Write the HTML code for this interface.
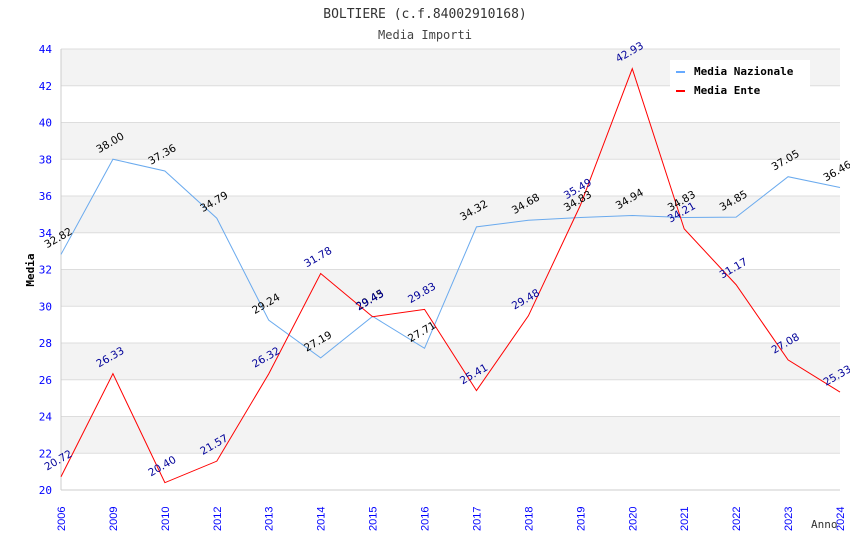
<!DOCTYPE html>
<html><head><meta charset="utf-8"><style>
body{margin:0;background:#fff;}
svg{display:block;font-family:"DejaVu Sans Mono","Liberation Mono",monospace;}
</style></head><body>
<svg id="chart" width="850" height="550" xmlns="http://www.w3.org/2000/svg">
<text x="425" y="18" text-anchor="middle" font-size="13" fill="#333">BOLTIERE (c.f.84002910168)</text>
<text x="425" y="39" text-anchor="middle" font-size="12" fill="#444">Media Importi</text>
<g id="bands"></g><g id="grid"></g><g id="axes"></g><g id="series"></g><g id="labels"></g>
<text transform="translate(34,270) rotate(-90)" text-anchor="middle" font-size="11" font-weight="bold" fill="#000">Media</text>
<text x="811" y="528" font-size="11" fill="#333">Anno</text>
<g>
<rect x="670" y="60" width="140" height="42" fill="#fff"/>
<rect x="676" y="71" width="9" height="2" fill="#6af"/>
<text x="694" y="75" font-size="11" font-weight="bold" fill="#000">Media Nazionale</text>
<rect x="676" y="90" width="9" height="2" fill="#f00"/>
<text x="694" y="94" font-size="11" font-weight="bold" fill="#000">Media Ente</text>
</g>
</svg>
<script>
const categories=["2006","2009","2010","2012","2013","2014","2015","2016","2017","2018","2019","2020","2021","2022","2023","2024"];
const nazionale=[32.82,38.00,37.36,34.79,29.24,27.19,29.45,27.71,34.32,34.68,34.83,34.94,34.83,34.85,37.05,36.46];
const ente=[20.72,26.33,20.40,21.57,26.32,31.78,29.43,29.83,25.41,29.48,35.49,42.93,34.21,31.17,27.08,25.33];
const yTicks=[20,22,24,26,28,30,32,34,36,38,40,42,44];
const X0=61,X1=840,Y0=490,Y1=49,YMIN=20,YMAX=44;
const ns="http://www.w3.org/2000/svg";
const xs=i=>X0+(X1-X0)*i/(categories.length-1);
const ys=v=>Y0-(v-YMIN)/(YMAX-YMIN)*(Y0-Y1);
function mk(t,a,p){const e=document.createElementNS(ns,t);for(const k in a)e.setAttribute(k,a[k]);p.appendChild(e);return e;}
const bands=document.getElementById('bands'),grid=document.getElementById('grid'),axes=document.getElementById('axes'),series=document.getElementById('series'),labels=document.getElementById('labels');
for(let i=0;i<yTicks.length-1;i++){
 if((yTicks.length-2-i)%2===0){const r=mk('rect',{x:X0,y:ys(yTicks[i+1]),width:X1-X0,height:ys(yTicks[i])-ys(yTicks[i+1]),fill:'#f3f3f3'},bands);
 
 }
}
yTicks.forEach(t=>{
 const l=mk('line',{x1:X0,x2:X1,y1:ys(t),y2:ys(t),stroke:'#ddd'},grid);
 
 
 const tx=mk('text',{x:X0-9,y:ys(t)+4,'text-anchor':'end','font-size':'11',fill:'#00f'},axes);
 tx.textContent=t;
 
 
});
mk('line',{x1:X0,x2:X0,y1:Y1,y2:Y0,stroke:'#ccc'},axes);
mk('line',{x1:X0,x2:X1,y1:Y0,y2:Y0,stroke:'#ccc'},axes);
categories.forEach((c,i)=>{
 const tx=mk('text',{transform:`translate(${xs(i)+4},${531}) rotate(-90)`,'font-size':'11',fill:'#00f','font-family':'Liberation Sans, sans-serif'},axes);
 tx.textContent=c;
 
 
});
function draw(vals,color,lcol,name){
 const p=mk('polyline',{points:vals.map((v,i)=>xs(i)+','+ys(v)).join(' '),fill:'none',stroke:color,'stroke-width':'1'},series);
 
 
 vals.forEach((v,i)=>{
  const t=mk('text',{transform:`translate(${xs(i)-14},${ys(v)-6}) rotate(-30)`,'font-size':'10.5',fill:lcol,'font-family':'DejaVu Sans, sans-serif'},labels);
  t.textContent=v.toFixed(2);
  
  
 });
}
draw(nazionale,'#6aaaee','#000','nazionale');
draw(ente,'#f00','#009','ente');
</script>
</body></html>
